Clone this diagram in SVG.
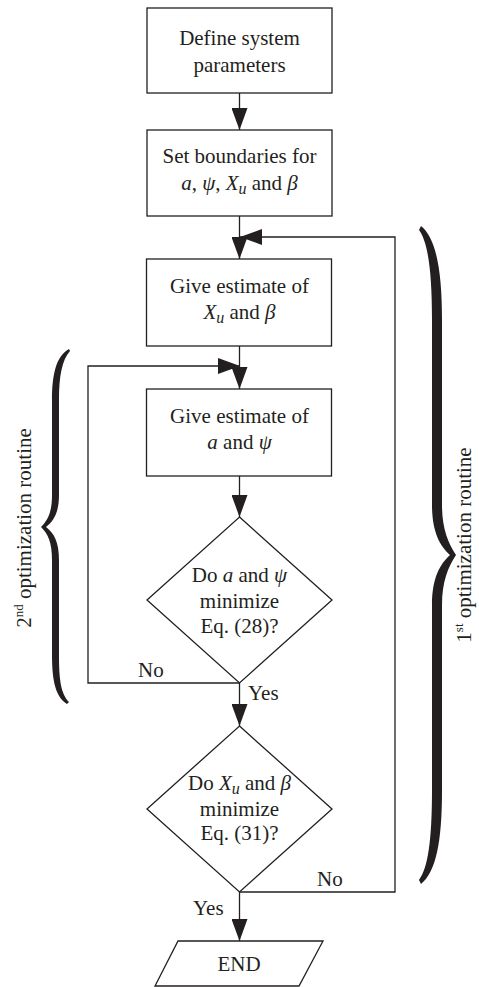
<svg xmlns="http://www.w3.org/2000/svg" width="479" height="987" viewBox="0 0 479 987" font-family="'Liberation Serif', 'Times New Roman', serif">
<defs>
<style>
.box{fill:#fff;stroke:#231f20;stroke-width:1.3}
.ln{fill:none;stroke:#231f20;stroke-width:1.3}
.t{font-family:'Liberation Serif','Times New Roman',serif;font-size:21px;fill:#231f20;text-anchor:middle}
.tl{font-family:'Liberation Serif','Times New Roman',serif;font-size:21px;fill:#231f20}
.i{font-style:italic}
.brace{fill:#231f20;stroke:none}
</style>
<marker id="ah" markerUnits="userSpaceOnUse" markerWidth="22" markerHeight="16" refX="22" refY="8" orient="auto">
<path d="M0,0 L22,8 L0,16 z" fill="#231f20"/>
</marker>
</defs>
<rect width="479" height="987" fill="#fff"/>
<g id="connectors">
<line class="ln" x1="239.5" y1="93" x2="239.5" y2="130" marker-end="url(#ah)"/>
<line class="ln" x1="239.5" y1="216" x2="239.5" y2="259" marker-end="url(#ah)"/>
<path class="ln" d="M239.5 892 L395 892 L395 237 L240 237" marker-end="url(#ah)"/>
<line class="ln" x1="239.5" y1="346" x2="239.5" y2="389" marker-end="url(#ah)"/>
<path class="ln" d="M239.5 683 L88 683 L88 366 L240 366" marker-end="url(#ah)"/>
<line class="ln" x1="239.5" y1="476" x2="239.5" y2="517" marker-end="url(#ah)"/>
<line class="ln" x1="239.5" y1="683" x2="239.5" y2="726" marker-end="url(#ah)"/>
<line class="ln" x1="239.5" y1="892" x2="239.5" y2="941" marker-end="url(#ah)"/>
<text class="tl" x="138" y="677">No</text>
<text class="tl" x="248" y="700">Yes</text>
<text class="tl" x="317" y="886">No</text>
<text class="tl" x="193" y="915">Yes</text>
</g>
<g id="define">
<rect class="box" x="147" y="8" width="185" height="85"/>
<text class="t" x="239.5" y="45">Define system</text>
<text class="t" x="239.5" y="72">parameters</text>
</g>
<g id="boundaries">
<rect class="box" x="147" y="130" width="185" height="86"/>
<text class="t" x="239.5" y="163">Set boundaries for</text>
<text class="t" x="239.5" y="190"><tspan class="i">a</tspan>, <tspan class="i">ψ</tspan>, <tspan class="i">X</tspan><tspan class="i" font-size="16" dy="4">u</tspan><tspan dy="-4"> and </tspan><tspan class="i">β</tspan></text>
</g>
<g id="estimateXb">
<rect class="box" x="146.5" y="259" width="185" height="87"/>
<text class="t" x="239.5" y="293">Give estimate of</text>
<text class="t" x="239.5" y="319"><tspan class="i">X</tspan><tspan class="i" font-size="16" dy="4">u</tspan><tspan dy="-4"> and </tspan><tspan class="i">β</tspan></text>
</g>
<g id="estimateAp">
<rect class="box" x="146.5" y="389" width="185" height="87"/>
<text class="t" x="239.5" y="423">Give estimate of</text>
<text class="t" x="239.5" y="449"><tspan class="i">a</tspan> and <tspan class="i">ψ</tspan></text>
</g>
<g id="decision1">
<polygon class="box" points="239.5,517 332,600 239.5,683 147,600"/>
<text class="t" x="239.5" y="582">Do <tspan class="i">a</tspan> and <tspan class="i">ψ</tspan></text>
<text class="t" x="239.5" y="608">minimize</text>
<text class="t" x="239.5" y="633">Eq. (28)?</text>
</g>
<g id="decision2">
<polygon class="box" points="239.5,726 332,809 239.5,892 147,809"/>
<text class="t" x="239.5" y="790">Do <tspan class="i">X</tspan><tspan class="i" font-size="16" dy="4">u</tspan><tspan dy="-4"> and </tspan><tspan class="i">β</tspan></text>
<text class="t" x="239.5" y="816">minimize</text>
<text class="t" x="239.5" y="840">Eq. (31)?</text>
</g>
<g id="end">
<polygon class="box" points="178,941 323,941 299,986 155,986"/>
<text class="t" x="239" y="971">END</text>
</g>
<g id="brace2">
<path class="brace" d="M69 349 C56 356,52 375,52 400 L52 495 C52 512,48 520,41 527 C48 534,52 542,52 560 L52 655 C52 682,56 697,67 704 L69 702 C61 694,59 680,59 655 L59 560 C59 542,54 533,46 527 C54 521,59 512,59 495 L59 400 C59 376,62 360,70 351 Z"/>
<text class="t" transform="translate(31,528) rotate(-90)">2<tspan font-size="13" dy="-8">nd</tspan><tspan dy="8"> optimization routine</tspan></text>
</g>
<g id="brace1">
<path class="brace" d="M421 226 C436 238,442 270,442 320 L442 505 C442 528,448 543,456 555 C448 567,442 582,442 605 L442 790 C442 842,436 872,421 884 L419 880 C428 868,432 840,432 790 L432 605 C432 578,440 564,450 555 C440 546,432 532,432 505 L432 320 C432 272,428 242,419 230 Z"/>
<text class="t" transform="translate(471,545) rotate(-90)">1<tspan font-size="13" dy="-8">st</tspan><tspan dy="8"> optimization routine</tspan></text>
</g>
</svg>
